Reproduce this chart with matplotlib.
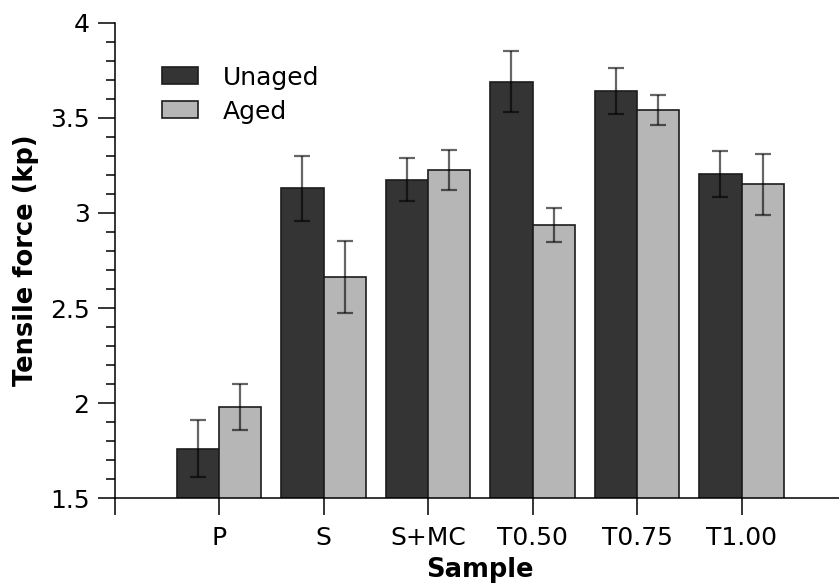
import numpy as np
import matplotlib
matplotlib.use('Agg')
import matplotlib.pyplot as plt
from matplotlib.ticker import MultipleLocator, FuncFormatter

samples = ['P', 'S', 'S+MC', 'T0.50', 'T0.75', 'T1.00']
unaged = [1.76, 3.13, 3.175, 3.69, 3.64, 3.205]
unaged_err = [0.15, 0.17, 0.112, 0.16, 0.12, 0.12]
aged = [1.98, 2.665, 3.225, 2.935, 3.54, 3.15]
aged_err = [0.12, 0.19, 0.107, 0.09, 0.08, 0.16]

dark = '#343434'
light = '#b6b6b6'
edge = '#1c1c1c'
w = 0.405

fig = plt.figure(figsize=(8.39, 5.85), dpi=100)
ax = fig.add_axes([0.1365, 0.1482, 0.8719, 0.813])

x = np.arange(1, len(samples) + 1)
ekw = dict(ecolor=(0, 0, 0, 0.6), elinewidth=1.6, capsize=6, capthick=1.6)
ax.bar(x - w / 2, unaged, w, color=dark, edgecolor=edge, linewidth=1.2,
       yerr=unaged_err, error_kw=ekw, label='Unaged')
ax.bar(x + w / 2, aged, w, color=light, edgecolor=edge, linewidth=1.2,
       yerr=aged_err, error_kw=ekw, label='Aged')

ax.set_xlim(0, 7)
ax.set_ylim(1.5, 4)
ax.set_xticks(range(0, 8))
ax.set_xticklabels([''] + samples + [''])
ax.yaxis.set_major_locator(MultipleLocator(0.5))
ax.yaxis.set_minor_locator(MultipleLocator(0.1))
ax.yaxis.set_major_formatter(FuncFormatter(lambda v, pos: '%g' % v))

for s in ['top', 'right']:
    ax.spines[s].set_visible(False)
for s in ['left', 'bottom']:
    ax.spines[s].set_linewidth(1.1)

ax.tick_params(axis='both', which='major', length=12, width=1.1, labelsize=18)
ax.tick_params(axis='y', which='major', pad=6)
ax.tick_params(axis='x', which='major', pad=8)
ax.tick_params(axis='y', which='minor', length=6.5, width=1.1)

ax.set_xlabel('Sample', fontsize=18.5, fontweight='bold', labelpad=5)
ax.set_ylabel('Tensile force (kp)', fontsize=18.5, fontweight='bold', labelpad=8)

ax.legend(loc='upper left', bbox_to_anchor=(149 / 839, 1 - 53 / 585),
          bbox_transform=fig.transFigure, frameon=False, fontsize=18,
          borderpad=0, handlelength=1.44, handleheight=0.68,
          handletextpad=1.0, labelspacing=0.4)

fig.savefig('out.png', dpi=100)
